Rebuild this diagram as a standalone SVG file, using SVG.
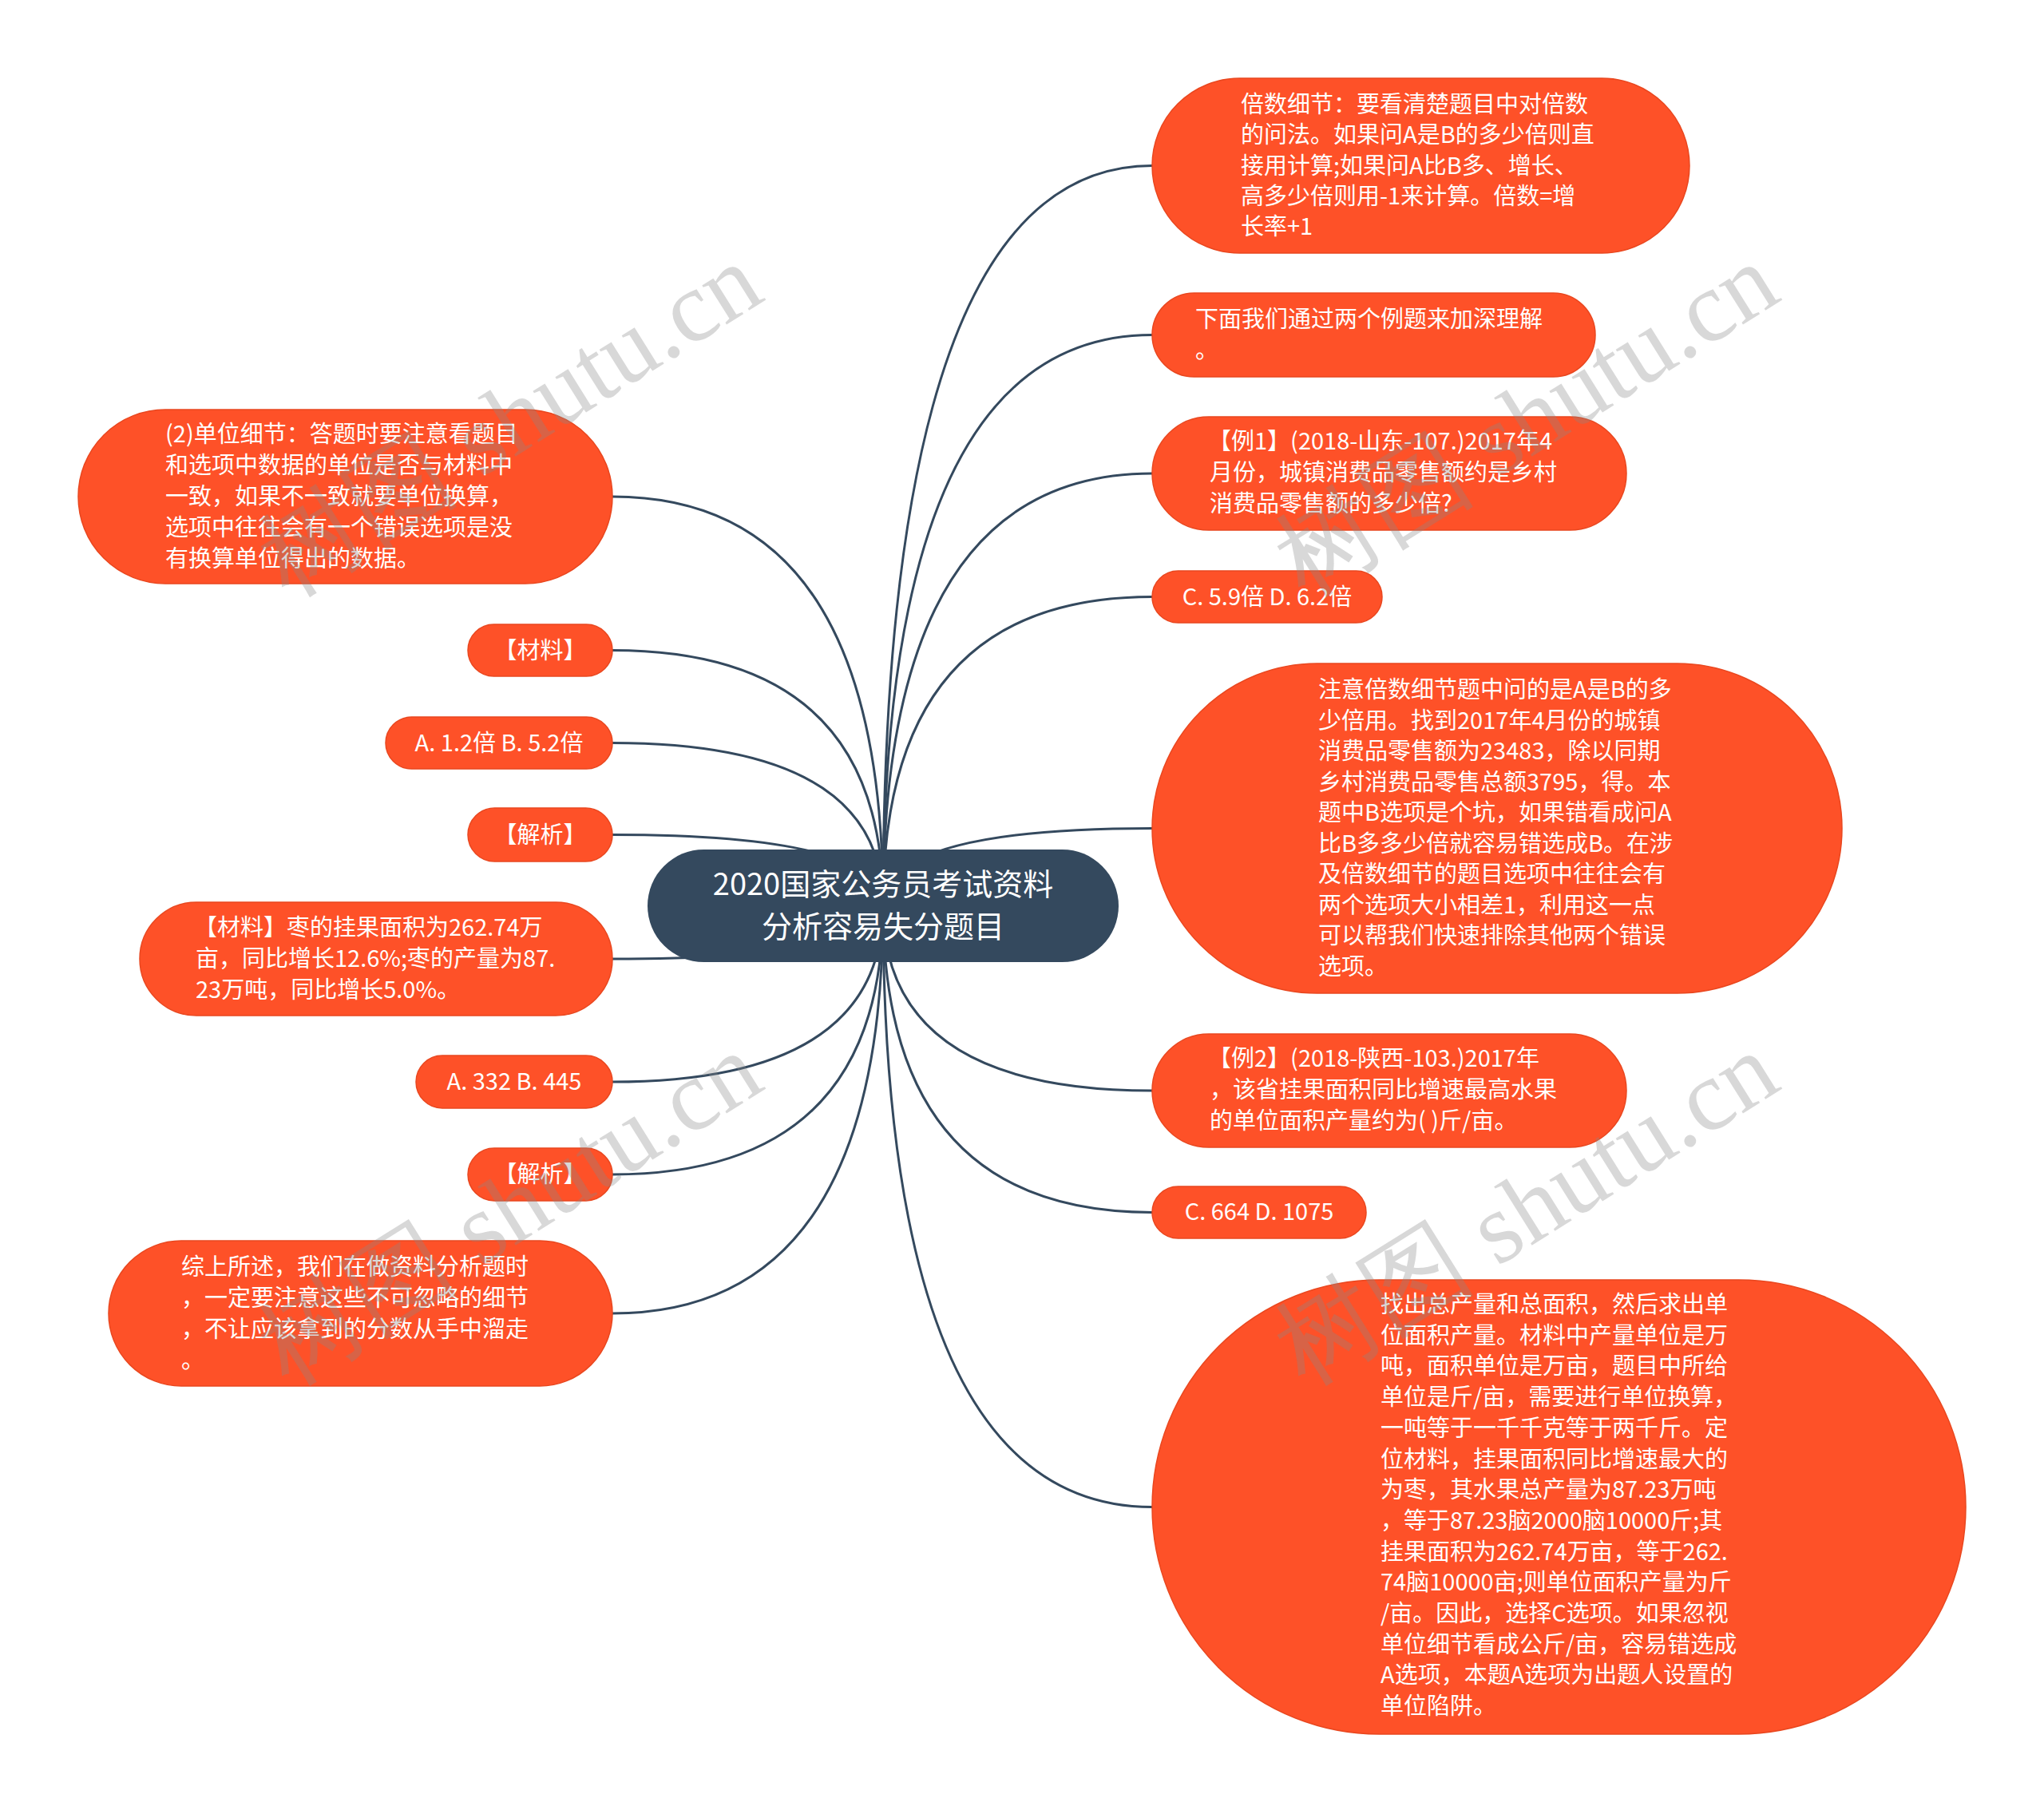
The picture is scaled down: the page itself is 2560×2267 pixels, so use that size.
<svg xmlns="http://www.w3.org/2000/svg" width="2560" height="2267" viewBox="0 0 2560 2267">
<style>
.bg{fill:#ffffff}
.n{fill:#FE5128;stroke:#E9471F;stroke-width:1.5}
.c{fill:#34495E}
.t{font-family:"Noto Sans CJK SC","Noto Sans",sans-serif;font-size:29px;fill:#ffffff}
.m{text-anchor:middle}
.ct{font-family:"Noto Sans CJK SC","Noto Sans",sans-serif;font-size:38px;fill:#ffffff;text-anchor:middle}
.e{fill:none;stroke:#34495E;stroke-width:3}
.wm{font-family:"Liberation Serif",serif;font-size:126px;fill:#8a8a8a;fill-opacity:0.33;text-anchor:middle}
</style>
<rect class="bg" x="0" y="0" width="2560" height="2267"/>
<g id="connectors">
<path class="e" d="M1106,1134 Q1106,207.5 1443,207.5"/>
<path class="e" d="M1106,1134 Q1106,419.5 1443,419.5"/>
<path class="e" d="M1106,1134 Q1106,593 1443,593"/>
<path class="e" d="M1106,1134 Q1106,747.5 1443,747.5"/>
<path class="e" d="M1106,1134 Q1106,1037.5 1443,1037.5"/>
<path class="e" d="M1106,1134 Q1106,1366 1443,1366"/>
<path class="e" d="M1106,1134 Q1106,1518.5 1443,1518.5"/>
<path class="e" d="M1106,1134 Q1106,1887.5 1443,1887.5"/>
<path class="e" d="M1106,1134 Q1106,622 767,622"/>
<path class="e" d="M1106,1134 Q1106,814.5 767,814.5"/>
<path class="e" d="M1106,1134 Q1106,930.5 767,930.5"/>
<path class="e" d="M1106,1134 Q1106,1045.5 767,1045.5"/>
<path class="e" d="M1106,1134 Q1106,1201 767,1201"/>
<path class="e" d="M1106,1134 Q1106,1355 767,1355"/>
<path class="e" d="M1106,1134 Q1106,1471 767,1471"/>
<path class="e" d="M1106,1134 Q1106,1645 767,1645"/>
</g>
<g id="root">
<rect class="c" x="811" y="1064" width="590" height="141" rx="70.5"/>
<text class="ct" x="1106" y="1121">2020国家公务员考试资料</text>
<text class="ct" x="1106" y="1174">分析容易失分题目</text>
</g>
<g id="r1">
<rect class="n" x="1443" y="98" width="673" height="219" rx="109.5"/>
<text class="t" x="1554" y="141">倍数细节：要看清楚题目中对倍数</text>
<text class="t" x="1554" y="179">的问法。如果问A是B的多少倍则直</text>
<text class="t" x="1554" y="218">接用计算;如果问A比B多、增长、</text>
<text class="t" x="1554" y="256">高多少倍则用-1来计算。倍数=增</text>
<text class="t" x="1554" y="294">长率+1</text>
</g>
<g id="r2">
<rect class="n" x="1443" y="367" width="555" height="105" rx="52.5"/>
<text class="t" x="1497" y="410">下面我们通过两个例题来加深理解</text>
<text class="t" x="1497" y="449">。</text>
</g>
<g id="r3">
<rect class="n" x="1443" y="522" width="594" height="142" rx="71"/>
<text class="t" x="1513" y="563">【例1】(2018-山东-107.)2017年4</text>
<text class="t" x="1515" y="602">月份，城镇消费品零售额约是乡村</text>
<text class="t" x="1515" y="641">消费品零售额的多少倍?</text>
</g>
<g id="r4">
<rect class="n" x="1443" y="715" width="288" height="65" rx="32.5"/>
<text class="t m" x="1587" y="758">C. 5.9倍 D. 6.2倍</text>
</g>
<g id="r5">
<rect class="n" x="1443" y="831" width="864" height="413" rx="206.5"/>
<text class="t" x="1651" y="874">注意倍数细节题中问的是A是B的多</text>
<text class="t" x="1651" y="912.5">少倍用。找到2017年4月份的城镇</text>
<text class="t" x="1651" y="951">消费品零售额为23483，除以同期</text>
<text class="t" x="1651" y="989.5">乡村消费品零售总额3795，得。本</text>
<text class="t" x="1651" y="1028">题中B选项是个坑，如果错看成问A</text>
<text class="t" x="1651" y="1066.5">比B多多少倍就容易错选成B。在涉</text>
<text class="t" x="1651" y="1105">及倍数细节的题目选项中往往会有</text>
<text class="t" x="1651" y="1143.5">两个选项大小相差1，利用这一点</text>
<text class="t" x="1651" y="1182">可以帮我们快速排除其他两个错误</text>
<text class="t" x="1651" y="1220.5">选项。</text>
</g>
<g id="r6">
<rect class="n" x="1443" y="1295" width="594" height="142" rx="71"/>
<text class="t" x="1513" y="1336">【例2】(2018-陕西-103.)2017年</text>
<text class="t" x="1515" y="1375">，该省挂果面积同比增速最高水果</text>
<text class="t" x="1515" y="1414">的单位面积产量约为( )斤/亩。</text>
</g>
<g id="r7">
<rect class="n" x="1443" y="1486" width="268" height="65" rx="32.5"/>
<text class="t m" x="1577" y="1528">C. 664 D. 1075</text>
</g>
<g id="r8">
<rect class="n" x="1443" y="1603" width="1019" height="569" rx="284.5"/>
<text class="t" x="1729" y="1644">找出总产量和总面积，然后求出单</text>
<text class="t" x="1729" y="1682.7">位面积产量。材料中产量单位是万</text>
<text class="t" x="1729" y="1721.4">吨，面积单位是万亩，题目中所给</text>
<text class="t" x="1729" y="1760.1">单位是斤/亩，需要进行单位换算，</text>
<text class="t" x="1729" y="1798.8">一吨等于一千千克等于两千斤。定</text>
<text class="t" x="1729" y="1837.5">位材料，挂果面积同比增速最大的</text>
<text class="t" x="1729" y="1876.2">为枣，其水果总产量为87.23万吨</text>
<text class="t" x="1729" y="1914.9">，等于87.23脑2000脑10000斤;其</text>
<text class="t" x="1729" y="1953.6">挂果面积为262.74万亩，等于262.</text>
<text class="t" x="1729" y="1992.3">74脑10000亩;则单位面积产量为斤</text>
<text class="t" x="1729" y="2031">/亩。因此，选择C选项。如果忽视</text>
<text class="t" x="1729" y="2069.7">单位细节看成公斤/亩，容易错选成</text>
<text class="t" x="1729" y="2108.4">A选项，本题A选项为出题人设置的</text>
<text class="t" x="1729" y="2147.1">单位陷阱。</text>
</g>
<g id="l1">
<rect class="n" x="98" y="513" width="669" height="218" rx="109"/>
<text class="t" x="207" y="554">(2)单位细节：答题时要注意看题目</text>
<text class="t" x="207" y="593">和选项中数据的单位是否与材料中</text>
<text class="t" x="207" y="632">一致，如果不一致就要单位换算，</text>
<text class="t" x="207" y="671">选项中往往会有一个错误选项是没</text>
<text class="t" x="207" y="710">有换算单位得出的数据。</text>
</g>
<g id="l2">
<rect class="n" x="586" y="782" width="181" height="65" rx="32.5"/>
<text class="t m" x="676.5" y="825">【材料】</text>
</g>
<g id="l3">
<rect class="n" x="483" y="898" width="284" height="65" rx="32.5"/>
<text class="t m" x="625" y="941">A. 1.2倍 B. 5.2倍</text>
</g>
<g id="l4">
<rect class="n" x="586" y="1012" width="181" height="67" rx="33.5"/>
<text class="t m" x="676.5" y="1056">【解析】</text>
</g>
<g id="l5">
<rect class="n" x="175" y="1130" width="592" height="142" rx="71"/>
<text class="t" x="243" y="1172">【材料】枣的挂果面积为262.74万</text>
<text class="t" x="245" y="1211">亩，同比增长12.6%;枣的产量为87.</text>
<text class="t" x="245" y="1250">23万吨，同比增长5.0%。</text>
</g>
<g id="l6">
<rect class="n" x="521" y="1322" width="246" height="66" rx="33"/>
<text class="t m" x="644" y="1365">A. 332 B. 445</text>
</g>
<g id="l7">
<rect class="n" x="586" y="1438" width="181" height="66" rx="33"/>
<text class="t m" x="676.5" y="1481">【解析】</text>
</g>
<g id="l8">
<rect class="n" x="136" y="1554" width="631" height="182" rx="91"/>
<text class="t" x="227" y="1597">综上所述，我们在做资料分析题时</text>
<text class="t" x="227" y="1636">，一定要注意这些不可忽略的细节</text>
<text class="t" x="227" y="1675">，不让应该拿到的分数从手中溜走</text>
<text class="t" x="227" y="1714">。</text>
</g>
<g id="watermarks">
<text class="wm" transform="translate(640,528) rotate(-32)" x="0" y="40">树图 shutu.cn</text>
<text class="wm" transform="translate(1913,528) rotate(-32)" x="0" y="40">树图 shutu.cn</text>
<text class="wm" transform="translate(640,1516) rotate(-32)" x="0" y="40">树图 shutu.cn</text>
<text class="wm" transform="translate(1913,1516) rotate(-32)" x="0" y="40">树图 shutu.cn</text>
</g>
</svg>
